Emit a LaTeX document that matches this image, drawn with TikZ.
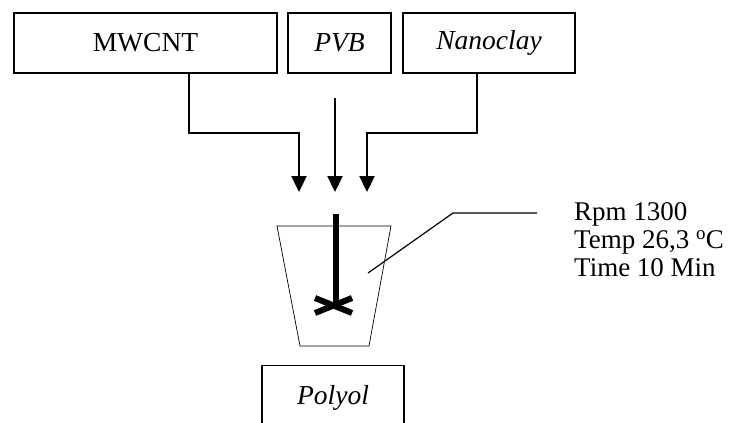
\documentclass[tikz,border=0pt]{standalone}
\usepackage{fontspec}
\setmainfont{Liberation Serif}
\usetikzlibrary{arrows.meta}

\tikzset{
  inbox/.style={draw, line width=1.3pt, inner sep=0pt, font=\fontsize{27.5}{30}\selectfont},
  feed/.style={line width=2.4pt, -{Triangle[width=15pt,length=16pt]}},
}

\begin{document}
\begin{tikzpicture}[x=1pt, y=-1pt]

% fix the page
\clip (0,0) rectangle (739,423);
\fill[white] (0,0) rectangle (739,423);

% draw input boxes
\node (mwcnt) [inbox, minimum width=263pt, minimum height=60pt] at (145.5,43) {MWCNT};
\node (pvb) [inbox, minimum width=103pt, minimum height=60pt] at (339.5,43) {\itshape PVB};
\node (clay) [inbox, minimum width=172pt, minimum height=60pt] at (489,43) {\itshape Nanoclay};

% arrow ends above the beaker
\coordinate (inA) at (299,192);
\coordinate (inB) at (335,192);
\coordinate (inC) at (367,192);
\coordinate (pvbtop) at (335,98);

% draw feed lines
\draw[feed] (mwcnt.south -| 189,0) |- (299,133) -- (inA);
\draw[feed] (pvbtop) -- (inB);
\draw[feed] (clay.south -| 477,0) |- (367,133) -- (inC);

% draw beaker
\draw[line width=0.7pt] (277,226) coordinate (b_1) -- (300,346) -- (369,346) -- (391,226) -- cycle;

% draw stirrer
\draw[line width=6pt] (336,214) coordinate (shaft) -- (336,305) coordinate (hub);
\draw[line width=6pt] (315,298) -- (352,313);
\draw[line width=6pt] (315,313) -- (352,298);

% draw settings label and leader
\node (set) [anchor=west, align=left, inner sep=0pt, font=\fontsize{27}{28}\selectfont] at (574,240)
  {Rpm 1300\\Temp 26,3 \textsuperscript{o}C\\Time 10 Min};
\coordinate (lead) at (368,273);
\draw[line width=1.2pt] (lead) -- (453,213) -- (537,213);

% draw polyol box, cut by the page edge
\node (polyol) [inbox, minimum width=142pt, minimum height=80pt, anchor=north] at (333,365) {};
\node at (333,398) [font=\fontsize{27.5}{30}\selectfont\itshape] {Polyol};

\end{tikzpicture}
\end{document}
